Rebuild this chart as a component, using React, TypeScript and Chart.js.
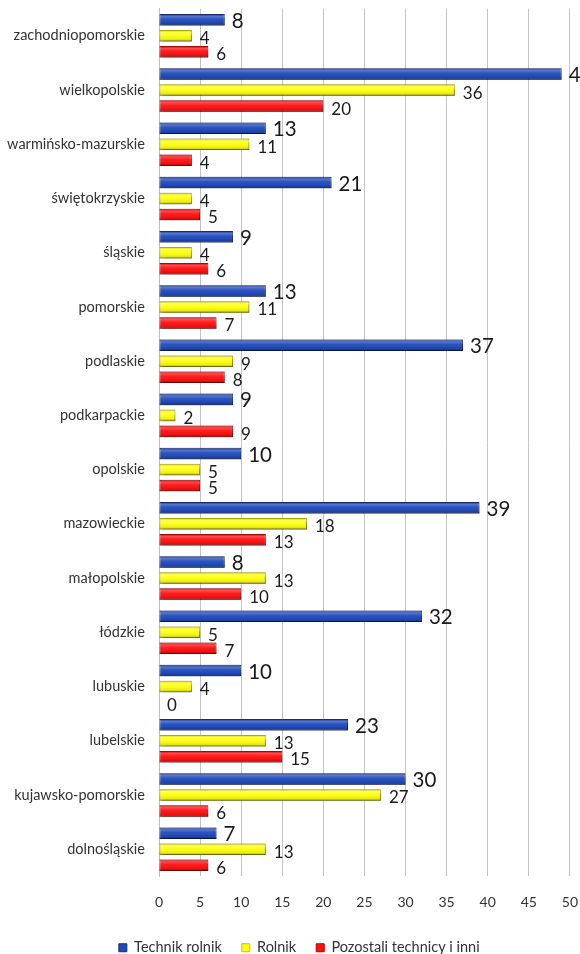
import React, { useEffect, useRef } from "react";
import { Chart, registerables } from "chart.js";

Chart.register(...registerables);

const categories = [
  "zachodniopomorskie",
  "wielkopolskie",
  "warmińsko-mazurskie",
  "świętokrzyskie",
  "śląskie",
  "pomorskie",
  "podlaskie",
  "podkarpackie",
  "opolskie",
  "mazowieckie",
  "małopolskie",
  "łódzkie",
  "lubuskie",
  "lubelskie",
  "kujawsko-pomorskie",
  "dolnośląskie",
];

const technikRolnik = [8, 49, 13, 21, 9, 13, 37, 9, 10, 39, 8, 32, 10, 23, 30, 7];
const rolnik = [4, 36, 11, 4, 4, 11, 9, 2, 5, 18, 13, 5, 4, 13, 27, 13];
const pozostali = [6, 20, 4, 5, 6, 7, 8, 9, 5, 13, 10, 7, 0, 15, 6, 6];

const seriesNames = ["Technik rolnik", "Rolnik", "Pozostali technicy i inni"];
const xTicks = [0, 5, 10, 15, 20, 25, 30, 35, 40, 45, 50];

const FONT = "Lato, 'Open Sans', sans-serif";

const legendShift = {
  id: "legendShift",
  afterLayout(chart: any) {
    const lg = chart.legend;
    if (lg) {
      lg.left += 14;
      lg.right += 14;
    }
  },
};

const barDecor = {
  id: "barDecor",
  beforeDatasetsDraw(chart: any) {
    const ctx = chart.ctx;
    ctx.save();
    ctx.shadowColor = "rgba(0,0,0,0.35)";
    ctx.shadowOffsetX = 2;
    ctx.shadowOffsetY = 2;
    ctx.shadowBlur = 3;
  },
  afterDatasetsDraw(chart: any) {
    const ctx = chart.ctx;
    ctx.restore();
    ctx.save();
    chart.data.datasets.forEach((ds: any, di: number) => {
      const meta = chart.getDatasetMeta(di);
      meta.data.forEach((bar: any, i: number) => {
        const v = ds.data[i];
        const top = bar.y - bar.height / 2;
        const bottom = bar.y + bar.height / 2;
        const left = Math.min(bar.base, bar.x);
        const w = Math.abs(bar.x - bar.base);
        if (w > 0.5) {
          const g = ctx.createLinearGradient(0, top, 0, bottom);
          g.addColorStop(0, "rgba(0,0,0,0.15)");
          g.addColorStop(0.2, "rgba(255,255,255,0.25)");
          g.addColorStop(0.45, "rgba(255,255,255,0.05)");
          g.addColorStop(0.8, "rgba(0,0,0,0.08)");
          g.addColorStop(1, "rgba(0,0,0,0.3)");
          ctx.fillStyle = g;
          ctx.fillRect(left, top, w, bottom - top);
        }
        ctx.fillStyle = "#1a1a1a";
        ctx.textAlign = "left";
        ctx.textBaseline = "middle";
        ctx.font = (di === 0 ? "20.5px " : "17px ") + FONT;
        ctx.fillText(String(v), bar.x + (di === 0 ? 7 : 8), bar.y + (di === 0 ? 1.5 : 3));
      });
    });
    ctx.restore();
  },
};

export default function App() {
  const ref = useRef<HTMLCanvasElement | null>(null);
  useEffect(() => {
    if (!ref.current) return;
    const chart = new Chart(ref.current, {
      type: "bar",
      data: {
        labels: categories,
        datasets: [
          {
            label: seriesNames[0],
            data: technikRolnik,
            backgroundColor: "#1f4abc",
            borderColor: "#122c7c",
            borderWidth: 1,
          },
          {
            label: seriesNames[1],
            data: rolnik,
            backgroundColor: "#ffff10",
            borderColor: "#c2c200",
            borderWidth: 1,
          },
          {
            label: seriesNames[2],
            data: pozostali,
            backgroundColor: "#ff1010",
            borderColor: "#b80000",
            borderWidth: 1,
          },
        ],
      },
      options: {
        indexAxis: "y",
        animation: false,
        responsive: false,
        maintainAspectRatio: false,
        datasets: {
          bar: {
            categoryPercentage: 0.885,
            barPercentage: 0.72,
            borderSkipped: false,
          },
        },
        layout: { padding: { top: 8, right: 9.5, left: 0, bottom: -11 } },
        scales: {
          x: {
            min: 0,
            max: 50,
            afterBuildTicks(scale: any) {
              scale.ticks = xTicks.map((v) => ({ value: v }));
            },
            grid: {
              color: "#c4c4c4",
              drawTicks: true,
              tickLength: 9,
              tickColor: "rgba(0,0,0,0)",
              lineWidth: 1,
            },
            border: { display: false },
            ticks: {
              padding: 2,
              color: "#333",
              font: { family: FONT, size: 14, lineHeight: 2.23 },
            },
          },
          y: {
            afterFit(scale: any) {
              scale.width = 159;
            },
            grid: {
              display: true,
              color: "rgba(0,0,0,0)",
              drawTicks: true,
              tickLength: 14,
              tickColor: "rgba(0,0,0,0)",
            },
            border: { display: true, color: "#bdbdbd" },
            ticks: {
              padding: 0,
              color: "#333",
              autoSkip: false,
              font: { family: FONT, size: 14.5 },
            },
          },
        },
        plugins: {
          legend: {
            position: "bottom",
            labels: {
              boxWidth: 8,
              boxHeight: 8,
              padding: 20,
              color: "#333",
              font: { family: FONT, size: 14.5 },
            },
          },
          tooltip: { enabled: false },
        },
      },
      plugins: [barDecor, legendShift],
    });
    return () => chart.destroy();
  }, []);
  return (
    <div style={{ position: "absolute", left: 0, top: 0, width: 580, height: 954, background: "#fff" }}>
      <canvas ref={ref} width={580} height={954} style={{ display: "block" }} />
    </div>
  );
}
